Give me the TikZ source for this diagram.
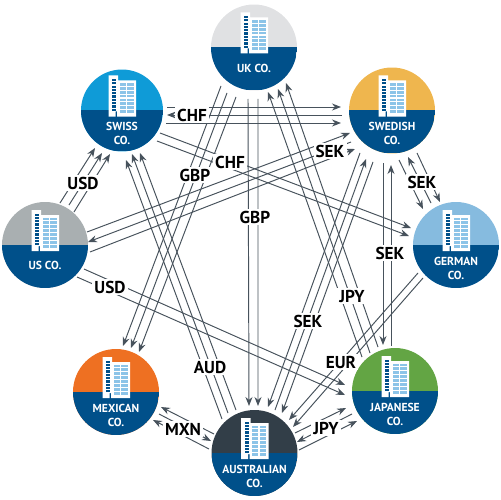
\documentclass[tikz,border=0pt]{standalone}
\usepackage{fontspec}
\setmainfont{PT Sans}
\usetikzlibrary{arrows.meta,calc}
\definecolor{navy}{HTML}{00508A}
\definecolor{wire}{HTML}{47525C}
\definecolor{winlight}{HTML}{8CC4E8}
\definecolor{topuk}{HTML}{E0E1E3}
\definecolor{topswiss}{HTML}{0F9BD7}
\definecolor{topswede}{HTML}{EFB64E}
\definecolor{topgerman}{HTML}{86BBDF}
\definecolor{topus}{HTML}{A9AFB1}
\definecolor{topmex}{HTML}{EE7022}
\definecolor{topaus}{HTML}{323E48}
\definecolor{topjap}{HTML}{63A544}

\begin{document}
\begin{tikzpicture}[
  x=0.02cm, y=-0.02cm,
  co/.style={circle, fill=#1, minimum size=1.72cm, inner sep=0pt,
    path picture={\fill[navy] (path picture bounding box.west) rectangle (path picture bounding box.south east);}},
  colbl/.style={text=white, font=\bfseries\fontsize{6.6}{8}\selectfont, align=center, inner sep=0pt},
  cur/.style={fill=white, font=\bfseries\fontsize{9.8}{10}\selectfont, inner sep=1.2pt},
  flow/.style={-{Stealth[length=1.8mm,width=1.4mm]}, draw=wire, line width=0.55pt},
  tower/.pic={
    \fill[white] (-13.5,-35) -- (-4,-35) -- (-4,-30) -- (14,-30) -- (14,6) -- (-5,6) -- (-5,1) -- (-6.5,1) -- (-6.5,6) -- (-13.5,6) -- cycle;
    \foreach \r in {0,...,9} {
      \fill[navy] (-10,-31.5+\r*3.3) rectangle ++(4,2.2);
    }
    \foreach \r in {0,...,7} {
      \fill[winlight] (-2.5,-27.5+\r*3.9) rectangle ++(6.3,2.8);
      \fill[winlight] (5.3,-27.5+\r*3.9) rectangle ++(6.3,2.8);
    }
  },
]
\useasboundingbox (0,0) rectangle (500,500);

% ---------------- companies ----------------
\node[co=topuk] (uk) at (254,47.5) {};
\node[co=topswiss, minimum size=1.64cm] (swiss) at (122,110.5) {};
\node[co=topswede] (swede) at (392,110.5) {};
\node[co=topgerman] (german) at (456,245) {};
\node[co=topus] (us) at (45,245) {};
\node[co=topmex] (mex) at (116,392) {};
\node[co=topaus] (aus) at (254.5,453) {};
\node[co=topjap] (jap) at (395,391) {};

\foreach \c in {uk,swiss,swede,german,us,mex,aus,jap} {
  \pic at (\c) {tower};
}

\node[colbl] (ukname) at ($(uk)+(0,20.5)$) {UK CO.};
\node[colbl] (swissname) at ($(swiss)+(0,23)$) {SWISS\\CO.};
\node[colbl] (swedename) at ($(swede)+(0,23)$) {SWEDISH\\CO.};
\node[colbl] (germanname) at ($(german)+(0,23)$) {GERMAN\\CO.};
\node[colbl] (usname) at ($(us)+(0,20)$) {US CO.};
\node[colbl] (mexname) at ($(mex)+(0,23)$) {MEXICAN\\CO.};
\node[colbl] (ausname) at ($(aus)+(0,23)$) {AUSTRALIAN\\CO.};
\node[colbl] (japname) at ($(jap)+(0,23)$) {JAPANESE\\CO.};

% ---------------- payments ----------------
% swiss <-> swedish
\draw[flow] ($(swiss)+(45,-3.5)$) -- ($(swede)+(-51,-3.5)$);
\draw[flow] ($(swede)+(-50,4.5)$) -- ($(swiss)+(45,4.5)$);
\draw[flow] ($(swiss)+(44,12.5)$) -- ($(swede)+(-51,12.5)$);
% swiss -> german
\draw[flow] ($(swiss)+(38,22.5)$) -- ($(german)+(-45,-17)$);
\draw[flow] ($(swiss)+(35,30.5)$) -- ($(german)+(-47,-9)$);
% uk -> mexican
\draw[flow] ($(uk)+(-33,38.5)$) -- ($(mex)+(7,-46)$);
\draw[flow] ($(uk)+(-27,45.5)$) -- ($(mex)+(15,-44)$);
\draw[flow] ($(uk)+(-18,49.5)$) -- ($(mex)+(23,-40)$);
% uk -> australian
\draw[flow] ($(uk)+(-6,51.5)$) -- ($(aus)+(-5.5,-47)$);
\draw[flow] ($(uk)+(4,51.5)$) -- ($(aus)+(3.5,-47)$);
% japanese -> uk
\draw[flow] ($(jap)+(-33,-34)$) -- ($(uk)+(14,44.5)$);
\draw[flow] ($(jap)+(-25,-38)$) -- ($(uk)+(24,41.5)$);
\draw[flow] ($(jap)+(-17,-44)$) -- ($(uk)+(32,35.5)$);
% australian -> swiss
\draw[flow] ($(aus)+(-32.5,-34)$) -- ($(swiss)+(4,49.5)$);
\draw[flow] ($(aus)+(-26.5,-40)$) -- ($(swiss)+(10,43.5)$);
\draw[flow] ($(aus)+(-18.5,-43)$) -- ($(swiss)+(18,42.5)$);
% us -> swiss
\draw[flow] ($(us)+(15,-42)$) -- ($(swiss)+(-27,37.5)$);
\draw[flow] ($(us)+(24,-40)$) -- ($(swiss)+(-20,42.5)$);
\draw[flow] ($(us)+(29,-33)$) -- ($(swiss)+(-12,43.5)$);
% us <-> swedish
\draw[flow] ($(us)+(42,-13)$) -- ($(swede)+(-42,22.5)$);
\draw[flow] ($(swede)+(-41,31.5)$) -- ($(us)+(43,-3)$);
\draw[flow] ($(us)+(45,7)$) -- ($(swede)+(-37,38.5)$);
% us -> japanese
\draw[flow] ($(us)+(39,24)$) -- ($(jap)+(-50,-6)$);
\draw[flow] ($(us)+(32,32)$) -- ($(jap)+(-50,4)$);
% swedish <-> australian
\draw[flow] ($(swede)+(-32,42.5)$) -- ($(aus)+(13.5,-46)$);
\draw[flow] ($(aus)+(20.5,-43)$) -- ($(swede)+(-26,48.5)$);
\draw[flow] ($(swede)+(-19,51.5)$) -- ($(aus)+(27.5,-40)$);
% swedish <-> japanese
\draw[flow] ($(swede)+(-9,52.5)$) -- ($(jap)+(-12,-46)$);
\draw[flow] ($(jap)+(-4,-45)$) -- ($(swede)+(-1,54.5)$);
% swedish <-> german
\draw[flow] ($(swede)+(7,49.5)$) -- ($(german)+(-33,-36)$);
\draw[flow] ($(german)+(-25,-42)$) -- ($(swede)+(16,46.5)$);
\draw[flow] ($(swede)+(25,42.5)$) -- ($(german)+(-16,-43)$);
% german -> australian
\draw[flow] ($(german)+(-38,28)$) -- ($(aus)+(34.5,-33)$);
\draw[flow] ($(german)+(-33,33)$) -- ($(aus)+(38.5,-26)$);
% australian <-> mexican
\draw[flow] ($(aus)+(-40.5,-19)$) -- ($(mex)+(45,15)$);
\draw[flow] ($(mex)+(43,22)$) -- ($(aus)+(-43.5,-12)$);
\draw[flow] ($(aus)+(-45.5,-4)$) -- ($(mex)+(37,28)$);
% australian <-> japanese
\draw[flow] ($(aus)+(40.5,-20)$) -- ($(jap)+(-49,17)$);
\draw[flow] ($(jap)+(-43,23)$) -- ($(aus)+(42.5,-11)$);
\draw[flow] ($(aus)+(44.5,-3)$) -- ($(jap)+(-38,30)$);

% ---------------- currencies ----------------
\node[cur] (chfa) at (192,115) {CHF};
\node[cur] (chfb) at (230,162) {CHF};
\node[cur] (gbpa) at (195,175) {GBP};
\node[cur] (gbpb) at (255,217) {GBP};
\node[cur] (jpya) at (352,296) {JPY};
\node[cur] (auda) at (210,367) {AUD};
\node[cur] (usda) at (83,183) {USD};
\node[cur] (usdb) at (110,287) {USD};
\node[cur] (seka) at (330,151) {SEK};
\node[cur] (sekb) at (308,321) {SEK};
\node[cur] (sekc) at (390,253) {SEK};
\node[cur] (sekd) at (422,182) {SEK};
\node[cur] (eura) at (341,362) {EUR};
\node[cur] (mxna) at (183,429) {MXN};
\node[cur] (jpyb) at (326,428) {JPY};

\end{tikzpicture}
\end{document}
